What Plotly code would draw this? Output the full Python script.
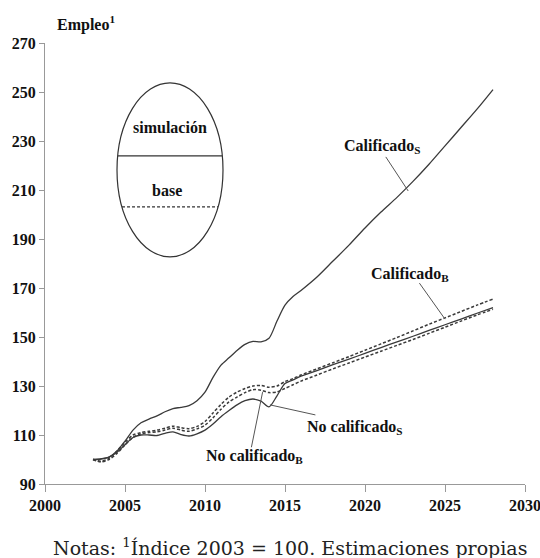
import numpy as np
import plotly.graph_objects as go

# ---- data ----
years = [2003, 2003.5, 2004, 2004.5, 2005, 2005.5, 2006, 2006.5, 2007, 2007.5,
         2008, 2008.5, 2009, 2009.5, 2010, 2010.5, 2011, 2011.5, 2012, 2012.5,
         2013, 2013.5, 2014, 2014.5, 2015, 2015.5, 2016, 2017, 2018, 2019,
         2020, 2021, 2022, 2023, 2024, 2025, 2026, 2027, 2028]

calificado_s = [100, 100.2, 101, 103.5, 107.5, 112, 115, 116.5, 117.8, 119.5,
                120.8, 121.3, 122, 124, 127.5, 133.5, 138.5, 141.5, 144.5, 147,
                148.2, 148, 149.5, 156.5, 163, 166.5, 169, 174.5, 181, 187.5,
                194.5, 201, 207, 213.5, 220.5, 228, 235.5, 243, 251]

no_calificado_s = [100, 100.3, 101, 103, 106, 109, 110, 110, 109.8, 110.7,
                   111.3, 110.2, 109.6, 110.5, 112, 114.5, 117.5, 120, 122.3, 124,
                   124.7, 123.8, 121.5, 126, 131, 132.5, 134, 136.3, 138.7, 141,
                   143.3, 145.7, 148, 150.3, 152.7, 155, 157.3, 159.7, 162]

calificado_b = [100, 99.3, 100.5, 103.5, 107, 110, 111, 111.5, 112, 112.8,
                113.6, 113, 112.6, 113.5, 115.5, 119, 122.5, 125.5, 127.5, 129,
                130, 130.2, 129.5, 130, 131.8, 133, 134.5, 137, 139.5, 142,
                144.6, 147.2, 149.8, 152.5, 155.2, 157.8, 160.4, 163, 165.5]

no_calificado_b = [100, 99, 100, 102.5, 106, 109, 110.5, 111, 111.3, 112,
                   112.8, 112, 111.5, 112.5, 114, 117, 120.5, 123.5, 125.5, 127.3,
                   128.5, 128.3, 127.3, 127.6, 129, 130.5, 132, 134.5, 137, 139.4,
                   141.8, 144.2, 146.6, 149, 151.5, 154, 156.5, 159, 161.3]

x_ticks = [2000, 2005, 2010, 2015, 2020, 2025, 2030]
y_ticks = [90, 110, 130, 150, 170, 190, 210, 230, 250, 270]

LINE = "#3a3a3a"
TICKFONT = dict(family="Liberation Serif", size=16, color="#111")

fig = go.Figure()
solid = dict(color=LINE, width=1.3, shape="spline", smoothing=0.8)
dashed = dict(color=LINE, width=1.5, shape="spline", smoothing=0.8, dash="3px,2px")

fig.add_trace(go.Scatter(x=years, y=calificado_s, mode="lines", line=solid, name="Calificado S"))
fig.add_trace(go.Scatter(x=years, y=no_calificado_s, mode="lines", line=solid, name="No calificado S"))
fig.add_trace(go.Scatter(x=years, y=calificado_b, mode="lines", line=dashed, name="Calificado B"))
fig.add_trace(go.Scatter(x=years, y=no_calificado_b, mode="lines", line=dashed, name="No calificado B"))

shapes = []
# legend ellipse (data coords)
ex0, ex1, ey0, ey1 = 2004.5, 2011.125, 182.7, 253.7
shapes.append(dict(type="circle", xref="x", yref="y", x0=ex0, x1=ex1, y0=ey0, y1=ey1,
                   line=dict(color="#333", width=1.2)))
cx, cy = (ex0 + ex1) / 2, (ey0 + ey1) / 2
rx, ry = (ex1 - ex0) / 2, (ey1 - ey0) / 2
for yy, dsh in [(223.9, "solid"), (203.1, "3px,2px")]:
    hw = rx * np.sqrt(1 - ((yy - cy) / ry) ** 2)
    shapes.append(dict(type="line", xref="x", yref="y", x0=cx - hw, x1=cx + hw, y0=yy, y1=yy,
                       line=dict(color="#333", width=1.3, dash=dsh)))

# leader lines
leaders = [((2021.3, 223.5), (2022.7, 209.6)),
           ((2023.4, 172.0), (2025.0, 157.3)),
           ((2016.9, 118.2), (2014.06, 122.3)),
           ((2012.9, 105.0), (2013.6, 127.5))]
for (a, b) in leaders:
    shapes.append(dict(type="line", xref="x", yref="y", x0=a[0], y0=a[1], x1=b[0], y1=b[1],
                       line=dict(color="#555", width=1)))

LBL = dict(family="Liberation Serif", size=16, color="#111")
ann = [
    dict(x=2021.06, y=227.6, text="<b>Calificado<sub>S</sub></b>"),
    dict(x=2022.8, y=175.7, text="<b>Calificado<sub>B</sub></b>"),
    dict(x=2019.4, y=112.9, text="<b>No calificado<sub>S</sub></b>"),
    dict(x=2013.1, y=101.4, text="<b>No calificado<sub>B</sub></b>"),
    dict(x=2007.8, y=235.5, text="<b>simulación</b>"),
    dict(x=2007.6, y=209.8, text="<b>base</b>"),
]
annotations = [dict(a, xref="x", yref="y", showarrow=False, font=LBL,
                    xanchor="center", yanchor="middle") for a in ann]
annotations.append(dict(x=0.02, y=1.015, xref="paper", yref="paper", xanchor="left", yanchor="bottom",
                        text="<b>Empleo<sup>1</sup></b>", showarrow=False,
                        font=dict(family="Liberation Serif", size=16, color="#111")))
annotations.append(dict(x=0.51, y=-0.143, xref="paper", yref="paper", xanchor="center", yanchor="middle",
                        text="Notas: <sup>1</sup>Índice 2003 = 100. Estimaciones propias", showarrow=False,
                        font=dict(family="DejaVu Serif", size=19, color="#222")))

fig.update_layout(
    width=540, height=558,
    margin=dict(l=45, r=15, t=43, b=74),
    paper_bgcolor="white", plot_bgcolor="white",
    showlegend=False,
    shapes=shapes, annotations=annotations,
    xaxis=dict(range=[2000, 2030], tickvals=x_ticks, ticktext=[f"<b>{v}</b>" for v in x_ticks],
               showgrid=False, zeroline=False, showline=True, linecolor="#999", linewidth=1,
               ticks="outside", ticklen=7, tickcolor="#999", tickfont=TICKFONT,
               automargin=False, ticklabeloverflow="allow"),
    yaxis=dict(range=[90, 270], tickvals=y_ticks, ticktext=[f"<b>{v}</b>" for v in y_ticks],
               showgrid=False, zeroline=False, showline=True, linecolor="#999", linewidth=1,
               ticks="outside", ticklen=5, tickcolor="#999", tickfont=TICKFONT,
               automargin=False, ticklabeloverflow="allow"),
)

fig.write_html("out.html", config={"displayModeBar": False},
               post_script="document.body.style.margin='0';document.body.style.overflow='hidden';")
